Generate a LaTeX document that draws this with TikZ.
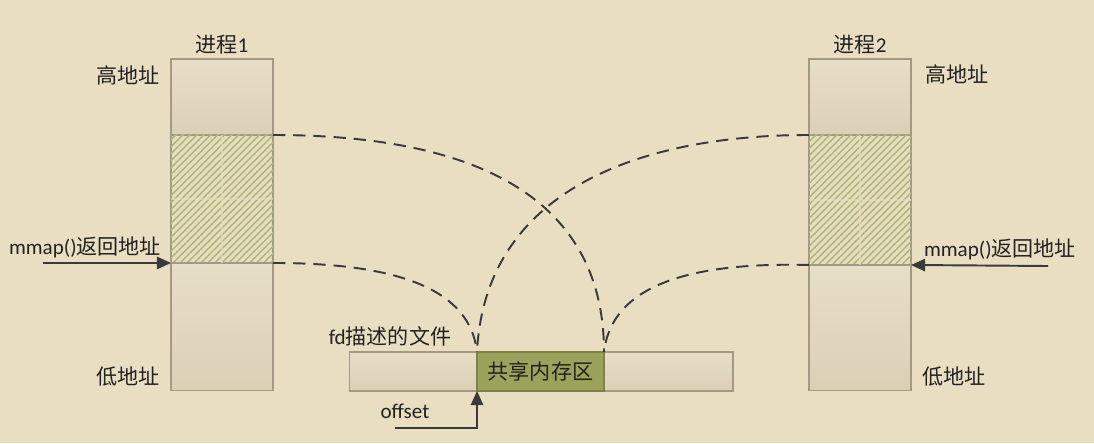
\documentclass[tikz,border=0pt]{standalone}
\usepackage{fontspec}
\setmainfont{Carlito}
\newfontfamily\cjk{Noto Sans CJK SC}
\usetikzlibrary{positioning,arrows.meta,patterns.meta}

\definecolor{bg}{HTML}{E9DEC2}
\definecolor{segtop}{HTML}{E7DEC8}
\definecolor{segbot}{HTML}{DBD0B6}
\definecolor{edge}{HTML}{A39A86}
\definecolor{hatchbg}{HTML}{E6DEC0}
\definecolor{hatchline}{HTML}{B5B67E}
\definecolor{shared}{HTML}{9BA25A}
\definecolor{sharededge}{HTML}{7D8247}
\definecolor{txt}{HTML}{222222}
\definecolor{linec}{HTML}{3A3A3A}

\begin{document}
\begin{tikzpicture}[
        x=0.02cm, y=-0.02cm,
        segment/.style={rectangle, draw=edge, line width=0.6pt, top color=segtop, bottom color=segbot, minimum width=2.04cm, inner sep=0pt, outer sep=0pt},
        hatched/.style={rectangle, draw=edge, line width=0.6pt, fill=hatchbg, postaction={pattern={Lines[angle=45,distance=2.8pt,line width=0.9pt]}, pattern color=hatchline}, minimum width=2.04cm, inner sep=0pt, outer sep=0pt},
        label/.style={font=\fontsize{12}{14}\selectfont, inner sep=0pt, text=txt},
        flow/.style={-{Triangle[length=8pt,width=7pt]}, line width=1.1pt, draw=linec},
        mapline/.style={dash pattern=on 7pt off 4.5pt, line width=1.1pt, draw=linec}
    ]
    \fill[bg] (0,0) rectangle (1094,443);
    \useasboundingbox (0,0) rectangle (1094,443);

    % Process 1
    \node[segment, minimum height=1.52cm] (p1top) at (222,97) {};
    \node[hatched, minimum height=2.56cm, below=0pt of p1top] (p1map) {};
    \node[segment, minimum height=2.56cm, below=0pt of p1map] (p1low) {};
    \draw[hatchbg, line width=0.6pt, opacity=0.6] (p1map.west) -- (p1map.east) (p1map.north) -- (p1map.south);

    % Process 2
    \node[segment, minimum height=1.52cm] (p2top) at (860,97) {};
    \node[hatched, minimum height=2.6cm, below=0pt of p2top] (p2map) {};
    \node[segment, minimum height=2.52cm, below=0pt of p2map] (p2low) {};
    \draw[hatchbg, line width=0.6pt, opacity=0.6] (p2map.west) -- (p2map.east) (p2map.north) -- (p2map.south);

    % File
    \node[segment, minimum width=7.68cm, minimum height=0.78cm] (file) at (541,371.5) {};
    \node[rectangle, draw=sharededge, line width=0.6pt, fill=shared, minimum width=2.54cm, minimum height=0.78cm, inner sep=0pt, outer sep=0pt, label] (shm) at (540.5,371.5) {\cjk 共享内存区};

    % Labels
    \node[label] (p1name) at (222,45) {{\cjk 进程}1};
    \node[label] (p1high) at (128,75) {\cjk 高地址};
    \node[label] (p1lowtxt) at (128,377) {\cjk 低地址};
    \node[label] (p2name) at (860,45) {{\cjk 进程}2};
    \node[label] (p2high) at (957,74) {\cjk 高地址};
    \node[label] (p2lowtxt) at (954,377) {\cjk 低地址};
    \node[label] (p1ret) at (85,247) {mmap(){\cjk 返回地址}};
    \node[label] (p2ret) at (1000,249) {mmap(){\cjk 返回地址}};
    \node[label] (fdtxt) at (390,336) {fd{\cjk 描述的文件}};
    \node[label] (offtxt) at (405,411) {offset};

    % Arrows
    \coordinate (p1src) at (43,263);
    \coordinate (p2src) at (1048,266);
    \coordinate (offsrc) at (395,428);
    \draw[flow] (p1src) -- (p1map.south west);
    \draw[flow] (p2src) -- (p2map.south east);
    \draw[flow] (offsrc) -| (shm.south west);

    % Mappings
    \draw[mapline] (p1map.north east) .. controls (480,135) and (604,200) .. (shm.north east);
    \draw[mapline] (p1map.south east) .. controls (400,263) and (470,290) .. (shm.north west);
    \draw[mapline] (p2map.north west) .. controls (640,135) and (485,190) .. (shm.north west);
    \draw[mapline] (p2map.south west) .. controls (690,262) and (612,285) .. (shm.north east);
\end{tikzpicture}
\end{document}
